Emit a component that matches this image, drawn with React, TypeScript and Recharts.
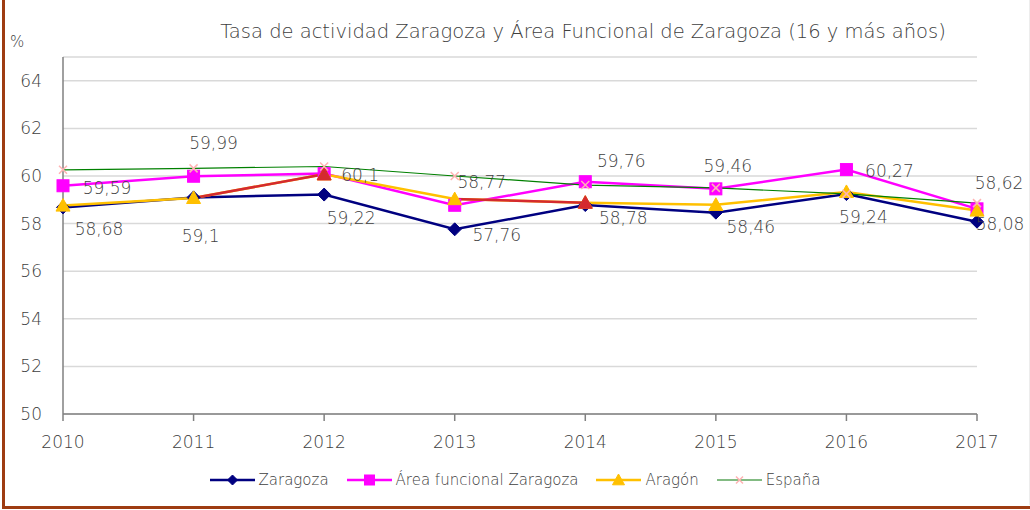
import React from 'react';
import { LineChart, Line, XAxis, YAxis, CartesianGrid, Legend, LabelList } from 'recharts';

const years = ['2010', '2011', '2012', '2013', '2014', '2015', '2016', '2017'];
const zaragoza = [58.68, 59.1, 59.22, 57.76, 58.78, 58.46, 59.24, 58.08];
const areaFuncional = [59.59, 59.99, 60.1, 58.77, 59.76, 59.46, 60.27, 58.62];
const aragon = [58.76, 59.08, 60.07, 59.03, 58.88, 58.79, 59.33, 58.55];
const espana = [60.26, 60.32, 60.4, 60.0, 59.62, 59.5, 59.25, 58.86];
// Excel highlights these Aragón points (and the segment leading to them) in red
const aragonRedPoints = [2, 4];
const yTicks = [50, 52, 54, 56, 58, 60, 62, 64];

const seriesNames = {
  zaragoza: 'Zaragoza',
  area: 'Área funcional Zaragoza',
  aragon: 'Aragón',
  espana: 'España',
};

// label placement (offset of label centre from its point)
const zaragozaLabelOffsets = [[36, 22], [7, 39], [27, 23], [42, 6], [38, 13], [35, 14], [17, 23], [23, 2]];
const areaLabelOffsets = [[44, 2], [20, -33], [36, 1], [27, -23], [36, -21], [12, -23], [43, 1], [22, -26]];

const data = years.map((y, i) => {
  const row: any = {
    year: y,
    zaragoza: zaragoza[i],
    area: areaFuncional[i],
    aragon: aragon[i],
    espana: espana[i],
  };
  aragonRedPoints.forEach((p, k) => {
    row['red' + k] = i === p || i === p - 1 ? aragon[i] : null;
  });
  return row;
});

const FONT = '"DejaVu Sans", sans-serif';
const W = 200;
const TEXT = '#404040';

const fmt = (v: number) => String(v).replace('.', ',');

const makeLabel = (offsets: number[][]) => (props: any) => {
  const { x, y, index, value } = props;
  const o = offsets[index] || [0, 0];
  return (
    <text
      x={x + o[0]}
      y={y + o[1]}
      textAnchor="middle"
      dominantBaseline="central"
      fontFamily={FONT}
      fontWeight={W}
      fontSize={17}
      fill={TEXT}
    >
      {fmt(value)}
    </text>
  );
};

const Diamond = ({ cx, cy, color, r = 6 }: any) => (
  <path d={`M${cx},${cy - r}L${cx + r},${cy}L${cx},${cy + r}L${cx - r},${cy}Z`} fill={color} stroke={color} />
);
const Square = ({ cx, cy, color, r = 6 }: any) => (
  <rect x={cx - r} y={cy - r} width={2 * r} height={2 * r} fill={color} stroke={color} />
);
const Triangle = ({ cx, cy, color, r = 7 }: any) => (
  <path d={`M${cx},${cy - r}L${cx + r},${cy + r * 0.8}L${cx - r},${cy + r * 0.8}Z`} fill={color} stroke={color} />
);
const Cross = ({ cx, cy, color, r = 4 }: any) => (
  <path d={`M${cx - r},${cy - r}L${cx + r},${cy + r}M${cx - r},${cy + r}L${cx + r},${cy - r}`} stroke={color} strokeWidth={1.5} fill="none" />
);

const NAVY = '#000080';
const MAGENTA = '#FF00FF';
const GOLD = '#FFC000';
const GREEN = '#008000';
const PINK = '#FFB3B3';
const RED = '#D42A2F';

const legendItems = [
  { name: seriesNames.zaragoza, color: NAVY, Marker: Diamond, mcolor: NAVY, r: 5 },
  { name: seriesNames.area, color: MAGENTA, Marker: Square, mcolor: MAGENTA, r: 5 },
  { name: seriesNames.aragon, color: GOLD, Marker: Triangle, mcolor: GOLD, r: 6 },
  { name: seriesNames.espana, color: '#5AA55A', Marker: Cross, mcolor: PINK, r: 3.5 },
];

const LegendContent = () => (
  <div style={{ display: 'flex', justifyContent: 'center', alignItems: 'center', height: 24, fontFamily: FONT, fontWeight: W, fontSize: 15, color: TEXT }}>
    {legendItems.map((it, i) => (
      <div key={it.name} style={{ display: 'flex', alignItems: 'center', marginRight: i < legendItems.length - 1 ? 18 : 0 }}>
        <svg width={45} height={16} style={{ marginRight: 4 }}>
          <line x1={0} y1={8} x2={45} y2={8} stroke={it.color} strokeWidth={it.Marker === Cross ? 1.5 : 2.5} />
          <it.Marker cx={22.5} cy={8} color={it.mcolor} r={it.r} />
        </svg>
        <span>{it.name}</span>
      </div>
    ))}
  </div>
);

export default function App() {
  return (
    <div style={{ position: 'absolute', left: 0, top: 0, width: 1030, height: 510, background: '#fff', overflow: 'hidden' }}>
      <div style={{ position: 'absolute', left: 1029, top: 0, width: 1, height: 505, background: '#EDEDED' }} />
      <div style={{ position: 'absolute', left: 2, top: 0, width: 3, height: 509, background: '#9E3C12' }} />
      <div style={{ position: 'absolute', left: 2, top: 506, width: 1028, height: 3, background: '#9E3C12' }} />
      <div
        style={{
          position: 'absolute',
          left: 0,
          width: 1166,
          top: 20,
          textAlign: 'center',
          fontFamily: FONT,
          fontWeight: W,
          fontSize: 19.5,
          color: TEXT,
        }}
      >
        Tasa de actividad Zaragoza y Área Funcional de Zaragoza (16 y más años)
      </div>
      <div style={{ position: 'absolute', left: 10, top: 33, fontFamily: FONT, fontWeight: W, fontSize: 15, color: TEXT }}>%</div>
      <div style={{ position: 'absolute', left: 0, top: 0 }}>
        <LineChart width={1030} height={510} data={data} margin={{ top: 57, right: 53, bottom: 42, left: 0 }}>
          <CartesianGrid vertical={false} stroke="#D9D9D9" strokeWidth={1.5} />
          <XAxis
            dataKey="year"
            height={30}
            stroke="#808080"
            strokeWidth={1.5}
            tickSize={7}
            tickMargin={15}
            tick={{ fontFamily: FONT, fontWeight: W, fontSize: 17, fill: TEXT }}
          />
          <YAxis
            width={63}
            domain={[50, 65]}
            ticks={yTicks}
            interval={0}
            stroke="#808080"
            strokeWidth={1.5}
            tickLine={false}
            tickMargin={15}
            tick={{ fontFamily: FONT, fontWeight: W, fontSize: 17, fill: TEXT }}
          />
          <Legend content={<LegendContent />} wrapperStyle={{ top: 468, left: 0, width: 1030 }} />
          <Line
            dataKey="zaragoza"
            name={seriesNames.zaragoza}
            stroke={NAVY}
            strokeWidth={2.5}
            isAnimationActive={false}
            dot={(p: any) => <Diamond key={p.index} cx={p.cx} cy={p.cy} color={NAVY} r={6.5} />}
          >
            <LabelList dataKey="zaragoza" content={makeLabel(zaragozaLabelOffsets)} />
          </Line>
          <Line
            dataKey="area"
            name={seriesNames.area}
            stroke={MAGENTA}
            strokeWidth={2.5}
            isAnimationActive={false}
            dot={(p: any) => <Square key={p.index} cx={p.cx} cy={p.cy} color={MAGENTA} r={6} />}
          >
            <LabelList dataKey="area" content={makeLabel(areaLabelOffsets)} />
          </Line>
          <Line
            dataKey="aragon"
            name={seriesNames.aragon}
            stroke={GOLD}
            strokeWidth={2.5}
            isAnimationActive={false}
            dot={(p: any) => <Triangle key={p.index} cx={p.cx} cy={p.cy} color={GOLD} r={7} />}
          />
          {aragonRedPoints.map((pt, k) => (
            <Line
              key={'red' + k}
              dataKey={'red' + k}
              legendType="none"
              stroke={RED}
              strokeWidth={2.5}
              isAnimationActive={false}
              dot={(p: any) =>
                p.index === pt ? <Triangle key={p.index} cx={p.cx} cy={p.cy} color={RED} r={7} /> : <g key={p.index} />
              }
            />
          ))}
          <Line
            dataKey="espana"
            name={seriesNames.espana}
            stroke={GREEN}
            strokeWidth={1.2}
            isAnimationActive={false}
            dot={(p: any) => <Cross key={p.index} cx={p.cx} cy={p.cy} color={PINK} r={4} />}
          />
        </LineChart>
      </div>
    </div>
  );
}
